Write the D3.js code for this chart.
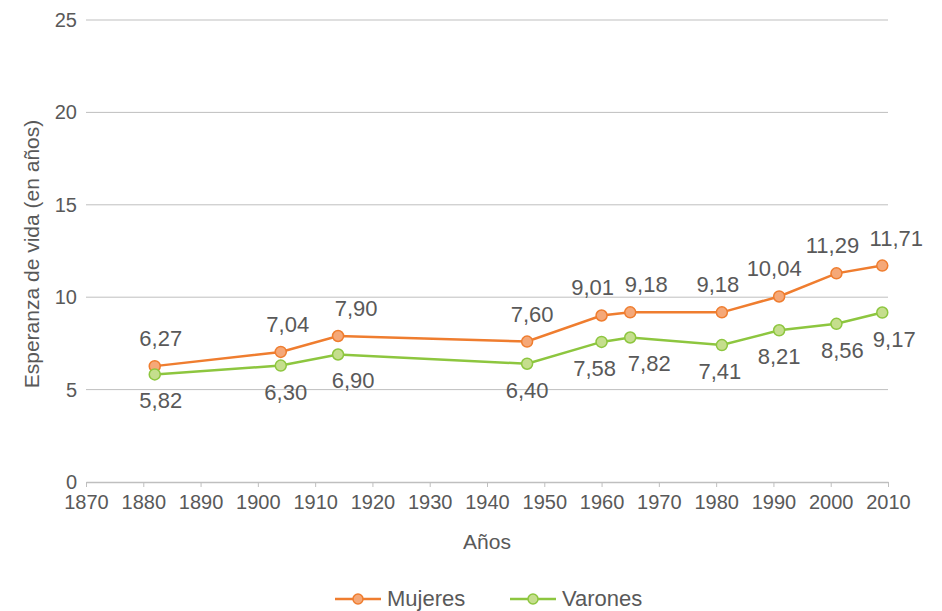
<html>
<head>
<style>
body { margin: 0; background: #fff; }
svg text { font-family: "Liberation Sans", Arial, sans-serif; fill: #595959; }
.tick text { font-size: 20px; }
.lbl { font-size: 22px; text-anchor: middle; }
.title { font-size: 21px; }
</style>
<script src="https://d3js.org/d3.v7.min.js"></script>
</head>
<body>
<svg width="942" height="611"></svg>
<script>
var years = [1882, 1904, 1914, 1947, 1960, 1965, 1981, 1991, 2001, 2009];
var mujeres = [6.27, 7.04, 7.90, 7.60, 9.01, 9.18, 9.18, 10.04, 11.29, 11.71];
var varones = [5.82, 6.30, 6.90, 6.40, 7.58, 7.82, 7.41, 8.21, 8.56, 9.17];
var xTicks = [1870, 1880, 1890, 1900, 1910, 1920, 1930, 1940, 1950, 1960, 1970, 1980, 1990, 2000, 2010];
var yTicks = [0, 5, 10, 15, 20, 25];

// horizontal nudges of the data labels, so they don't collide
var mujeresLabelDx = [6, 7, 18, 5, -9, 16, -4, -5, -4, 14];
var varonesLabelDx = [6, 5, 15, 0, -7, 19, -2, 0, 6, 12];

var svg = d3.select("svg");
var mLeft = 86, mRight = 888, mTop = 20, mBottom = 482;

var x = d3.scaleLinear().domain([1870, 2010]).range([mLeft, mRight]);
var y = d3.scaleLinear().domain([0, 25]).range([mBottom, mTop]);

// grid
svg.append("g").selectAll("line")
   .data(yTicks.filter(function(d) { return d > 0; }))
   .enter().append("line")
   .attr("x1", mLeft).attr("x2", mRight)
   .attr("y1", function(d) { return y(d); })
   .attr("y2", function(d) { return y(d); })
   .attr("stroke", "#bfbfbf").attr("stroke-width", 1);

var yAxis = svg.append("g")
   .attr("transform", "translate(" + (mLeft - 4) + ",0)")
   .call(d3.axisLeft(y).tickValues(yTicks).tickSize(0).tickPadding(5));
yAxis.select(".domain").remove();

var xAxis = svg.append("g")
   .attr("transform", "translate(0," + mBottom + ")")
   .call(d3.axisBottom(x).tickValues(xTicks).tickFormat(d3.format("d")).tickSize(5).tickPadding(8).tickSizeOuter(0));
xAxis.select(".domain").attr("stroke", "#bfbfbf").attr("stroke-width", 1.5);
xAxis.selectAll(".tick line").attr("stroke", "#bfbfbf");

var fmt = function(v) { return d3.format(".2f")(v).replace(".", ","); };

var series = [
  { name: "Mujeres", values: mujeres, dx: mujeresLabelDx, stroke: "#ef7d2f", fill: "#f5a878", dy: -20 },
  { name: "Varones", values: varones, dx: varonesLabelDx, stroke: "#8dc63f", fill: "#c5de8d", dy: 34 }
];

var line = d3.line()
   .x(function(d, i) { return x(years[i]); })
   .y(function(d) { return y(d); });

series.forEach(function(s) {
  svg.append("path")
     .attr("d", line(s.values))
     .attr("fill", "none")
     .attr("stroke", s.stroke)
     .attr("stroke-width", 2.5);
  svg.append("g").selectAll("circle")
     .data(s.values).enter().append("circle")
     .attr("cx", function(d, i) { return x(years[i]); })
     .attr("cy", function(d) { return y(d); })
     .attr("r", 5.5)
     .attr("fill", s.fill)
     .attr("stroke", s.stroke)
     .attr("stroke-width", 1.5);
  svg.append("g").selectAll("text")
     .data(s.values).enter().append("text")
     .attr("class", "lbl")
     .attr("x", function(d, i) { return x(years[i]) + s.dx[i]; })
     .attr("y", function(d) { return y(d) + s.dy; })
     .text(fmt);
});

svg.append("text")
   .attr("class", "title")
   .attr("text-anchor", "middle")
   .attr("transform", "translate(39,254) rotate(-90)")
   .text("Esperanza de vida (en años)");

svg.append("text")
   .attr("class", "title")
   .attr("text-anchor", "middle")
   .attr("x", 487).attr("y", 549)
   .text("Años");

// legend
var legend = svg.append("g").attr("transform", "translate(335,599)");
series.forEach(function(s, i) {
  var g = legend.append("g").attr("transform", "translate(" + (i * 175) + ",0)");
  g.append("line").attr("x1", 0).attr("x2", 46).attr("y1", 0).attr("y2", 0)
   .attr("stroke", s.stroke).attr("stroke-width", 2.5);
  g.append("circle").attr("cx", 23).attr("cy", 0).attr("r", 5)
   .attr("fill", s.fill).attr("stroke", s.stroke).attr("stroke-width", 1.5);
  g.append("text").attr("class", "title").attr("x", 52).attr("y", 7)
   .style("font-size", "22px").text(s.name);
});
</script>
</body>
</html>
